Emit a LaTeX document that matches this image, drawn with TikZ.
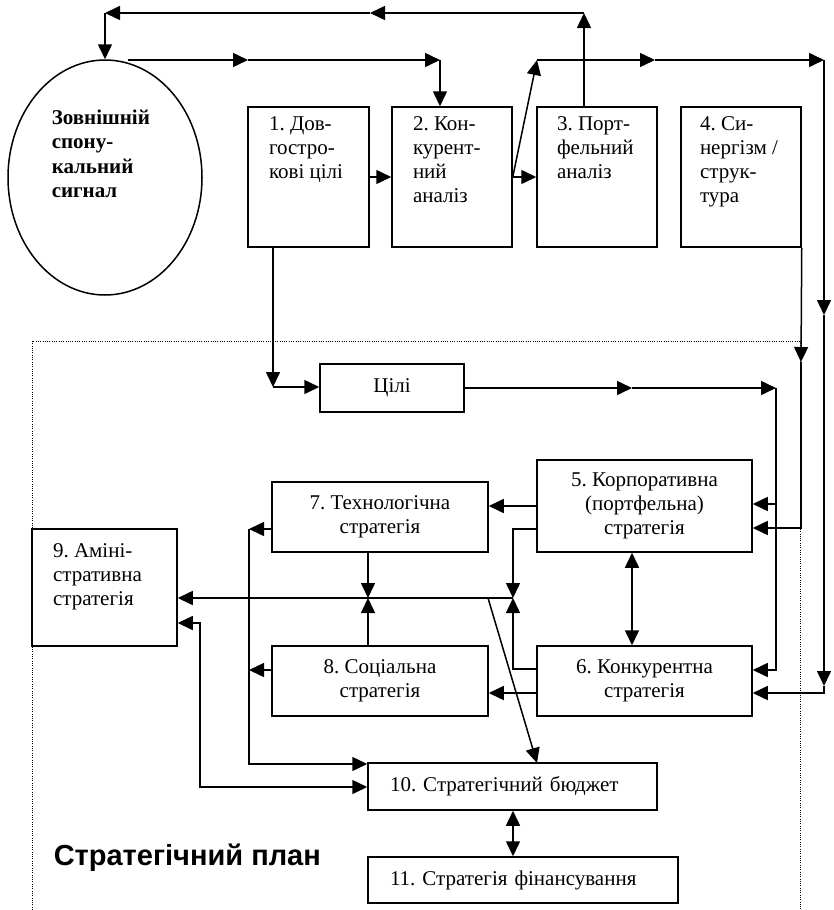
\documentclass[tikz,border=0pt]{standalone}
\usepackage{fontspec}
\setmainfont{Liberation Serif}
\newfontfamily\headsans{Liberation Sans}
\usetikzlibrary{arrows.meta,shapes.geometric}
\frenchspacing

\begin{document}
\begin{tikzpicture}[x=1pt,y=-1pt,
  line width=1.5pt,
  every node/.style={font=\fontsize{21}{24}\selectfont},
  box/.style={draw, rectangle, line width=1.5pt, inner sep=0pt},
  txt/.style={align=left, inner sep=0pt, anchor=north west},
  arr/.style={-{Triangle[length=15pt,width=14pt]}},
  darr/.style={{Triangle[length=15pt,width=14pt]}-{Triangle[length=15pt,width=14pt]}},
  frame/.style={line width=0.9pt, dash pattern=on 1pt off 1.3pt}
]
\useasboundingbox (0,0) rectangle (834,910);

% dotted border of the strategic plan
\draw[frame] (32,910) -- (32,341) -- (800,341) -- (800,910);

% external signal
\node[draw, ellipse, minimum width=194pt, minimum height=235pt, inner sep=0pt] (sig) at (105,177.5) {};
\node[txt, font=\fontsize{21}{24.5}\selectfont\bfseries] (sigtxt) at (51,109) {Зовнішній\\спону-\\кальний\\сигнал};

% analysis boxes
\node[box, minimum width=121pt, minimum height=140pt] (b1) at (308.5,177) {};
\node[box, minimum width=120pt, minimum height=140pt] (b2) at (452,177) {};
\node[box, minimum width=120pt, minimum height=140pt] (b3) at (597,177) {};
\node[box, minimum width=120pt, minimum height=140pt] (b4) at (741,177) {};
\node[txt] (t1) at ([shift={(21,10)}]b1.north west) {1. Дов-\\гостро-\\кові цілі};
\node[txt] (t2) at ([shift={(21,10)}]b2.north west) {2. Кон-\\курент-\\ний\\аналіз};
\node[txt] (t3) at ([shift={(20,10)}]b3.north west) {3. Порт-\\фельний\\аналіз};
\node[txt] (t4) at ([shift={(19,10)}]b4.north west) {4. Си-\\нергізм /\\струк-\\тура};

% plan boxes
\node[box, minimum width=144pt, minimum height=48pt] (goals) at (392,388) {Цілі};
\node[box, minimum width=215pt, minimum height=92pt, align=center] (b5) at (644.5,506) {5. Корпоративна\\(портфельна)\\стратегія};
\node[box, minimum width=215pt, minimum height=70pt, align=center] (b6) at (644.5,681) {6. Конкурентна\\стратегія};
\node[box, minimum width=216pt, minimum height=70pt, align=center] (b7) at (380,517) {7. Технологічна\\стратегія};
\node[box, minimum width=216pt, minimum height=70pt, align=center] (b8) at (380,681) {8. Соціальна\\стратегія};
\node[box, minimum width=145pt, minimum height=117pt] (b9) at (104.5,587.5) {};
\node[txt] (t9) at ([shift={(21,15)}]b9.north west) {9. Аміні-\\стративна\\стратегія};
\node[box, minimum width=289pt, minimum height=47pt, inner xsep=22pt, text width=245pt, align=left] (b10) at (512.5,786.5) {10. Стратегічний бюджет};
\node[box, minimum width=310pt, minimum height=46pt, inner xsep=22pt, text width=266pt, align=left] (b11) at (523,880) {11. Стратегія фінансування};

\node[txt, font=\headsans\bfseries\fontsize{29}{33}\selectfont] (plan) at (53,843) {Стратегічний план};

% loop back to the signal over the top
\coordinate (up3) at (584,13);
\coordinate (topmid) at (370,13);
\coordinate (topleft) at (105,13);
\draw[arr] (up3 |- b3.north) -- (up3);
\draw[arr] (up3) -- (topmid);
\draw[arr] (topmid) -- (topleft);
\draw[arr] (topleft) -- (sig.north);

% signal to competitive analysis
\coordinate (s0) at (128,60);
\coordinate (s1) at (248,60);
\coordinate (s2) at (440,60);
\draw[arr] (s0) -- (s1);
\draw[arr] (s1) -- (s2);
\draw[arr] (s2) -- (s2 |- b2.north);

% chain of analysis boxes
\draw[arr] (b1.east) -- (b2.west);
\draw[arr] (b2.east) -- (b3.west);

% from competitive analysis over the top to the right rail
\coordinate (d1) at (537,60);
\coordinate (d2) at (655,60);
\coordinate (d3) at (824,60);
\coordinate (d4) at (824,315);
\coordinate (d5) at (824,686);
\coordinate (d6) at (824,693);
\draw[arr] (b2.east) -- (d1);
\draw[arr] (d1) -- (d2);
\draw[arr] (d2) -- (d3);
\draw[arr] (d3) -- (d4);
\draw[arr] (d4) -- (d5);
\draw[arr] (d5) -- (d6) -- (d6 -| b6.east);

% synergy down to corporate strategy
\coordinate (e1) at (801,362);
\coordinate (e2) at (801,528);
\draw[arr] (b4.south east) -- (e1);
\draw[arr] (e1) -- (e2) -- (e2 -| b5.east);

% long-term goals down to goals
\coordinate (g1) at (273,387);
\draw[arr] (b1.south -| g1) -- (g1);
\draw[arr] (g1) -- (g1 -| goals.west);

% goals to corporate and competitive strategy
\coordinate (h1) at (632,388);
\coordinate (h2) at (776,388);
\coordinate (h3) at (776,670);
\coordinate (h4) at (776,504);
\draw[arr] (goals.east) -- (h1);
\draw[arr] (h1) -- (h2);
\draw[arr] (h2) -- (h3) -- (h3 -| b6.east);
\draw[arr] (h4) -- (h4 -| b5.east);

% corporate <-> competitive
\draw[darr] (b5.south -| h1) -- (b6.north -| h1);

% corporate and competitive to technology and social
\draw[arr] (b5.west) -- (b5.west -| b7.east);
\draw[arr] ([yshift=-12pt]b6.west) -- ([yshift=-12pt]b6.west -| b8.east);

% feeds into the administrative strategy line
\coordinate (j1) at (513,529);
\coordinate (j2) at (513,598);
\coordinate (j3) at (513,669);
\coordinate (m1) at (368,598);
\draw[arr] (j1 -| b5.west) -- (j1) -- (j2);
\draw[arr] (j3 -| b6.west) -- (j3) -- (j2);
\draw[arr] (b7.south -| m1) -- (m1);
\draw[arr] (b8.north -| m1) -- (m1);
\draw[arr] (j2) -- (j2 -| b9.east);

% diagonal to the budget
\coordinate (n1) at (488,598);
\coordinate (n2) at (537,763);
\draw[arr] (n1) -- (n2);

% technology and social to the budget
\coordinate (u1) at (249,529);
\coordinate (u2) at (249,764);
\coordinate (u3) at (249,670);
\draw[arr] (u1 -| b7.west) -- (u1);
\draw[arr] (u1) -- (u2) -- (u2 -| b10.west);
\draw[arr] (u3 -| b8.west) -- (u3);

% administrative <-> budget
\coordinate (v1) at (200,623);
\coordinate (v2) at (200,787);
\draw[darr] (v1 -| b9.east) -- (v1) -- (v2) -- (v2 -| b10.west);

% budget <-> financing
\draw[darr] (b10.south -| j1) -- (b11.north -| j1);

\end{tikzpicture}
\end{document}
